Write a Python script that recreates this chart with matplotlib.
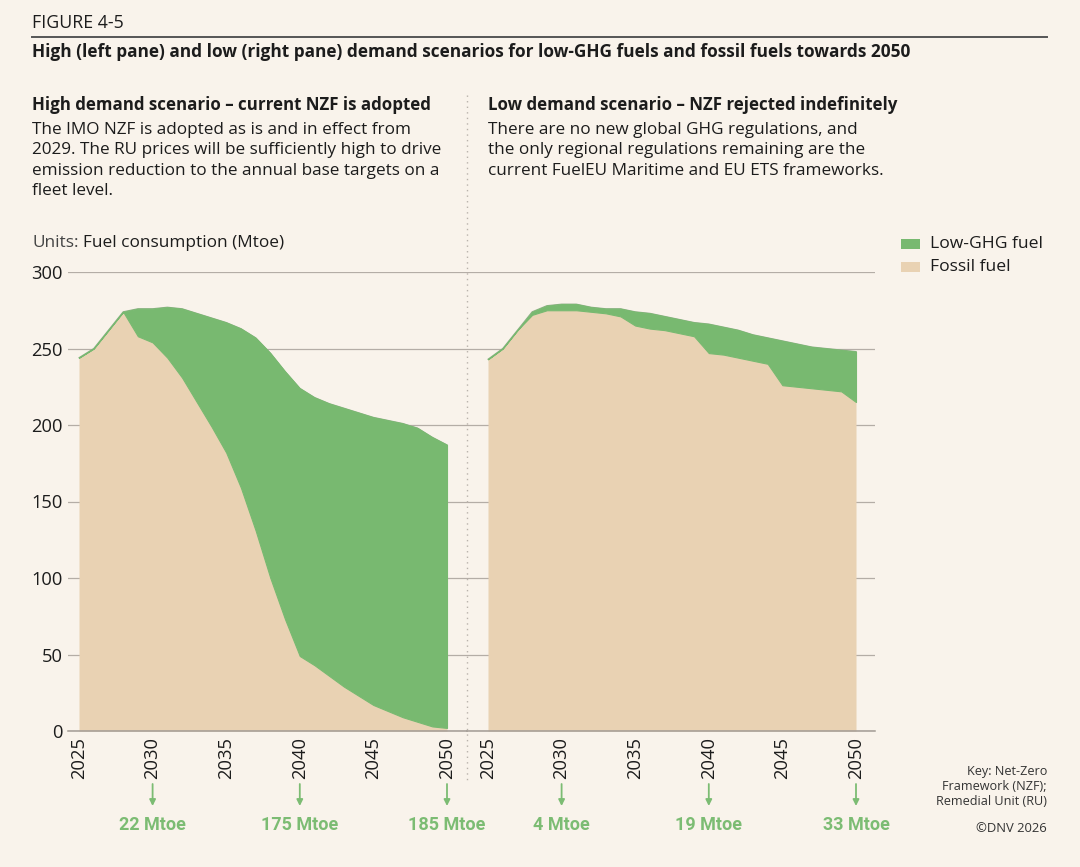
import matplotlib
matplotlib.use("Agg")
import matplotlib.pyplot as plt
from matplotlib.patches import Rectangle
from matplotlib.lines import Line2D
from matplotlib.transforms import blended_transform_factory

# ---------------- data ----------------
years = list(range(2025, 2051))
fossil_high = [244, 250, 262, 274, 258, 254, 244, 231, 215, 199, 182, 159, 131,
               100, 73, 49, 43, 36, 29, 23, 17, 13, 9, 6, 3, 2]
lowghg_high = [0, 0, 0, 0, 18, 22, 33, 45, 58, 71, 85, 104, 126,
               147, 162, 175, 175, 178, 182, 185, 188, 190, 192, 192, 189, 185]
fossil_low = [243, 250, 262, 272, 275, 275, 275, 274, 273, 271, 265, 263, 262,
              260, 258, 247, 246, 244, 242, 240, 226, 225, 224, 223, 222, 215]
lowghg_low = [0, 0, 0, 2, 3, 4, 4, 3, 3, 5, 9, 10, 9,
              9, 9, 19, 18, 18, 17, 17, 29, 28, 27, 27, 27, 33]
xticks = [2025, 2030, 2035, 2040, 2045, 2050]
yticks = [0, 50, 100, 150, 200, 250, 300]
arrow_years = [2030, 2040, 2050]
arrow_labels_high = ["22 Mtoe", "175 Mtoe", "185 Mtoe"]
arrow_labels_low = ["4 Mtoe", "19 Mtoe", "33 Mtoe"]
series_names = ["Low-GHG fuel", "Fossil fuel"]

# ---------------- style ----------------
BG = "#f9f3eb"
GREEN = "#78b970"
FOSSIL = "#e9d2b3"
TXT = "#1c1c1c"
GRID = "#b4ada6"
GLAB = "#7cbc73"
FONT = ["Open Sans", "DejaVu Sans"]
plt.rcParams["font.family"] = FONT

W, H = 1080, 867
fig = plt.figure(figsize=(W / 100, H / 100), dpi=100, facecolor=BG)


def fx(x):
    return x / W


def fy(y):
    return 1 - y / H


def ftext(x, y, s, **kw):
    kw.setdefault("color", TXT)
    kw.setdefault("va", "center")
    fig.text(fx(x), fy(y), s, **kw)


BODY = 12.3

# header
ftext(32, 23, "FIGURE 4-5", fontsize=12.8)
fig.add_artist(Line2D([fx(32), fx(1047)], [fy(37), fy(37)], color="#555555", lw=1.4))
ftext(32, 52, "High (left pane) and low (right pane) demand scenarios for low-GHG fuels "
      "and fossil fuels towards 2050", fontsize=12.4, fontweight="bold")

ftext(32, 105, "High demand scenario \u2013 current NZF is adopted", fontsize=12.2,
      fontweight="bold")
fig.text(fx(32), fy(122), "The IMO NZF is adopted as is and in effect from\n"
         "2029. The RU prices will be sufficiently high to drive\n"
         "emission reduction to the annual base targets on a\n"
         "fleet level.", fontsize=BODY, va="top", linespacing=1.36, color=TXT)

ftext(488, 105, "Low demand scenario \u2013 NZF rejected indefinitely", fontsize=12.2,
      fontweight="bold")
fig.text(fx(488), fy(122), "There are no new global GHG regulations, and\n"
         "the only regional regulations remaining are the\n"
         "current FuelEU Maritime and EU ETS frameworks.",
         fontsize=BODY, va="top", linespacing=1.36, color=TXT)

fig.text(fx(32), fy(243), "Units:", fontsize=12.4, color="#444444", va="center")
ftext(83, 243, "Fuel consumption (Mtoe)", fontsize=12.4)

# divider
fig.add_artist(Line2D([fx(467), fx(467)], [fy(95), fy(780)], color="#b9b2ab",
                      lw=1.0, linestyle=(0, (1, 3))))

# axes
y0, y300 = 731, 272
ppy = 14.72  # pixels per year


def make_ax(left_px, right_px, x2025_px):
    ax = fig.add_axes([fx(left_px), fy(y0), (right_px - left_px) / W, (y0 - y300) / H])
    ax.set_facecolor("none")
    xmin = 2025 - (x2025_px - left_px) / ppy
    xmax = xmin + (right_px - left_px) / ppy
    ax.set_xlim(xmin, xmax)
    ax.set_ylim(0, 300)
    for s in ["top", "right", "left"]:
        ax.spines[s].set_visible(False)
    ax.spines["bottom"].set_color("#a29b94")
    ax.spines["bottom"].set_linewidth(1.1)
    ax.set_yticks(yticks)
    ax.yaxis.grid(True, color=GRID, lw=0.9)
    ax.set_axisbelow(True)
    ax.set_xticks(xticks)
    ax.set_xticklabels([str(t) for t in xticks], rotation=90, fontsize=13.2, color=TXT)
    ax.tick_params(axis="x", length=0, pad=4)
    ax.tick_params(axis="y", length=0, pad=4, labelsize=13.2, labelcolor=TXT)
    return ax


axL = make_ax(68, 467, 79)
axR = make_ax(467, 875, 488)
axR.set_yticklabels([])

for ax, fos, low, labs in [(axL, fossil_high, lowghg_high, arrow_labels_high),
                           (axR, fossil_low, lowghg_low, arrow_labels_low)]:
    top = [f + l for f, l in zip(fos, low)]
    ax.fill_between(years, 0, fos, color=FOSSIL, lw=0, zorder=2)
    ax.fill_between(years, fos, top, facecolor=GREEN, edgecolor=GREEN, lw=0.8, zorder=2)
    ax.plot(years, top, color="#8fae86", lw=0.8, zorder=1.9)
    tr = blended_transform_factory(ax.transData, fig.transFigure)
    for yr, lab in zip(arrow_years, labs):
        ax.annotate("", xy=(yr, fy(806)), xytext=(yr, fy(784)),
                    xycoords=tr, textcoords=tr,
                    arrowprops=dict(arrowstyle="-|>", color=GLAB, lw=1.3,
                                    mutation_scale=9, shrinkA=0, shrinkB=0))
        ax.text(yr, fy(825), lab, transform=tr, ha="center", va="center",
                fontsize=13.0, color=GLAB, fontweight="bold",
                family=["Roboto", "DejaVu Sans"])

# legend
for i, (name, col) in enumerate(zip(series_names, [GREEN, FOSSIL])):
    yc = 244 + i * 23
    fig.add_artist(Rectangle((fx(901), fy(yc + 5)), 19 / W, 10 / H,
                             transform=fig.transFigure, facecolor=col, edgecolor="none"))
    ftext(930, yc, name, fontsize=12.6)

# key and copyright
fig.text(fx(1047), fy(765), "Key: Net-Zero\nFramework (NZF);\nRemedial Unit (RU)",
         ha="right", va="top", fontsize=9.1, color="#333333", linespacing=1.18)
ftext(1047, 828, "\u00a9DNV 2026", ha="right", fontsize=9.4, color="#333333")

fig.savefig("out.png", dpi=100, facecolor=BG)
